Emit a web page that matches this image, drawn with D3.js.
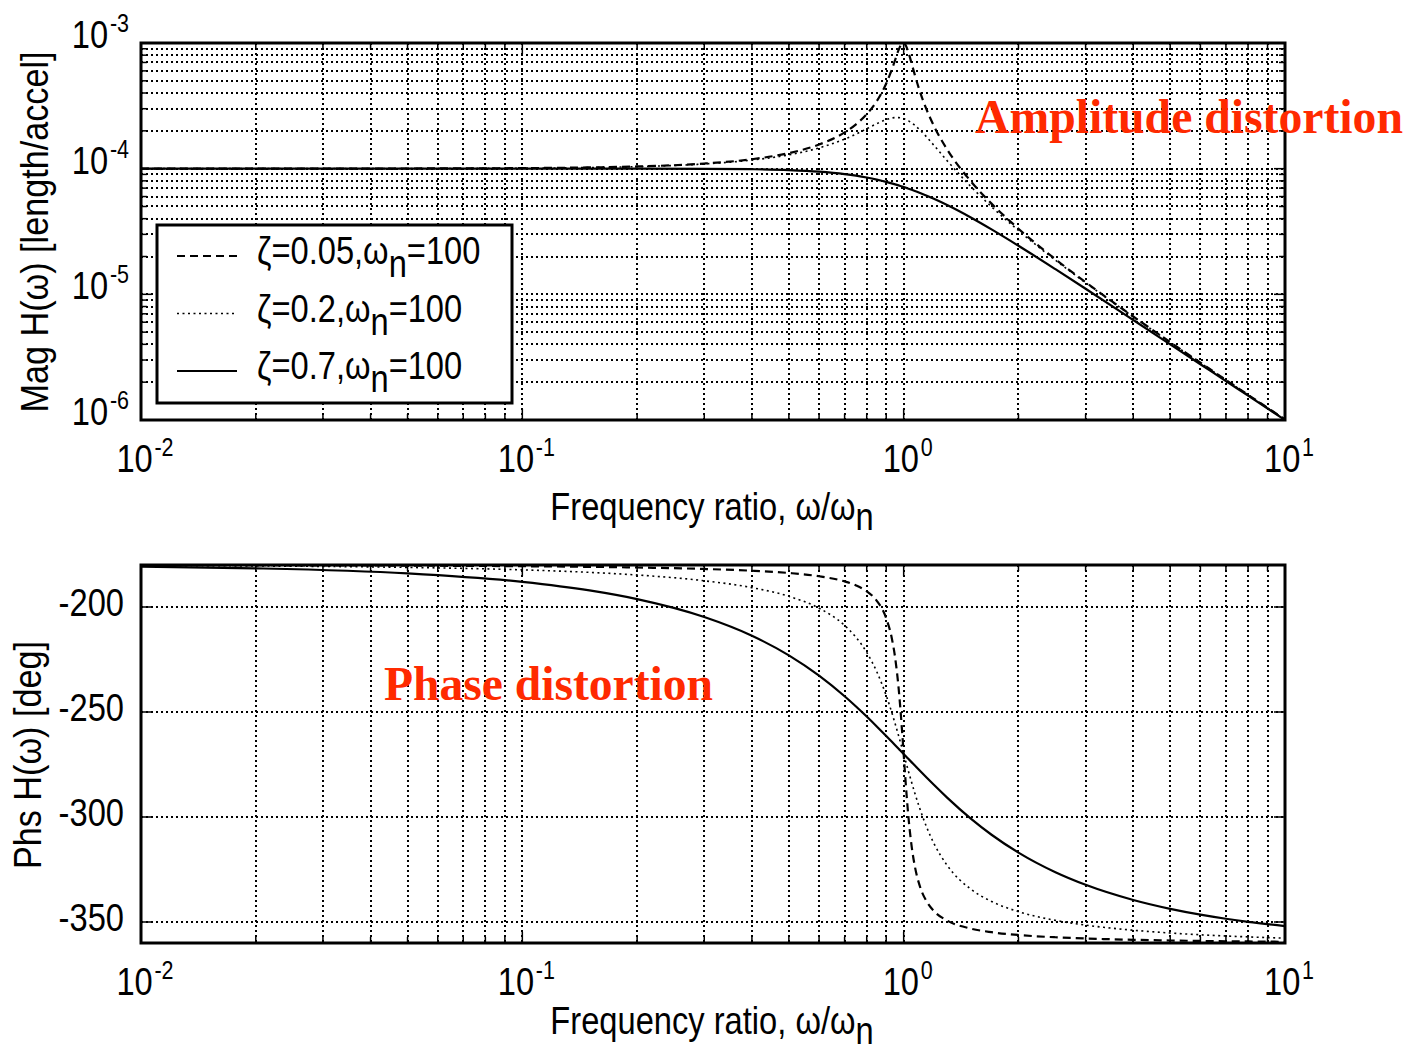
<!DOCTYPE html>
<html>
<head>
<meta charset="utf-8">
<script src="https://cdn.jsdelivr.net/npm/d3@7"></script>
<style>
  body { margin: 0; background: #fff; }
  svg { display: block; }
  text { font-family: "Liberation Sans", Arial, sans-serif; fill: #000; }
</style>
</head>
<body>
<svg id="chart" width="1410" height="1058"></svg>
<script>
// frequency ratio w/wn, shared by all curves
const ratio = [0.01, 0.02, 0.05, 0.1, 0.15, 0.2, 0.3, 0.4, 0.5, 0.6, 0.7, 0.75, 0.8, 0.85, 0.9, 0.93, 0.95, 0.97, 0.98, 0.99,
  1.0, 1.01, 1.02, 1.03, 1.05, 1.07, 1.1, 1.15, 1.2, 1.3, 1.5, 1.7, 2, 2.5, 3, 4, 5, 6, 7, 8, 10];

// magnitude, length/accel
const mag005 = [1.000e-4, 1.000e-4, 1.003e-4, 1.010e-4, 1.023e-4, 1.041e-4, 1.098e-4, 1.189e-4, 1.330e-4, 1.556e-4, 1.943e-4,
  2.253e-4, 2.712e-4, 3.446e-4, 4.757e-4, 6.097e-4, 7.346e-4, 8.804e-4, 9.461e-4, 9.903e-4, 1.000e-3, 9.711e-4, 9.115e-4,
  8.357e-4, 6.815e-4, 5.552e-4, 4.218e-4, 2.921e-4, 2.193e-4, 1.424e-4, 7.943e-5, 5.270e-5, 3.326e-5, 1.903e-5, 1.249e-5,
  6.664e-6, 4.166e-6, 2.857e-6, 2.083e-6, 1.587e-6, 1.010e-6];
const mag02 = [1.000e-4, 1.000e-4, 1.002e-4, 1.009e-4, 1.021e-4, 1.038e-4, 1.090e-4, 1.170e-4, 1.288e-4, 1.463e-4, 1.719e-4,
  1.885e-4, 2.076e-4, 2.279e-4, 2.457e-4, 2.527e-4, 2.549e-4, 2.548e-4, 2.538e-4, 2.522e-4, 2.500e-4, 2.472e-4, 2.439e-4,
  2.401e-4, 2.313e-4, 2.213e-4, 2.051e-4, 1.780e-4, 1.536e-4, 1.157e-4, 7.212e-5, 4.979e-5, 3.221e-5, 1.871e-5, 1.236e-5,
  6.629e-6, 4.152e-6, 2.851e-6, 2.080e-6, 1.585e-6, 1.009e-6];
const mag07 = [1.000e-4, 1.000e-4, 1.000e-4, 1.000e-4, 1.000e-4, 1.000e-4, 9.978e-5, 9.905e-5, 9.747e-5, 9.469e-5, 9.052e-5,
  8.791e-5, 8.500e-5, 8.184e-5, 7.848e-5, 7.639e-5, 7.499e-5, 7.357e-5, 7.286e-5, 7.214e-5, 7.143e-5, 7.071e-5, 7.000e-5,
  6.929e-5, 6.786e-5, 6.645e-5, 6.434e-5, 6.090e-5, 5.758e-5, 5.138e-5, 4.092e-5, 3.290e-5, 2.437e-5, 1.585e-5, 1.107e-5,
  6.246e-6, 4.000e-6, 2.778e-6, 2.041e-6, 1.563e-6, 1.000e-6];

// phase, deg
const phs005 = [-180.06, -180.11, -180.29, -180.58, -180.88, -181.19, -181.89, -182.73, -183.81, -185.36, -187.82, -189.73,
  -192.53, -197.03, -205.35, -214.54, -224.26, -238.64, -248.00, -258.63, -270.00, -281.26, -291.61, -300.60, -314.31,
  -323.56, -332.35, -340.37, -344.74, -349.33, -353.16, -354.86, -356.19, -357.27, -357.85, -358.47, -358.81, -359.02,
  -359.16, -359.27, -359.42];
const phs02 = [-180.23, -180.46, -181.15, -182.31, -183.51, -184.76, -187.51, -190.78, -194.93, -200.56, -208.77, -214.44,
  -221.63, -230.79, -242.18, -250.04, -255.61, -261.34, -264.23, -267.12, -270.00, -272.85, -275.65, -278.41, -283.71,
  -288.70, -295.51, -305.03, -312.51, -323.00, -334.36, -340.21, -345.07, -349.22, -351.47, -353.91, -355.24, -356.08,
  -356.66, -357.09, -357.69];
const phs07 = [-180.80, -181.60, -184.01, -188.05, -192.12, -196.26, -204.78, -213.69, -223.03, -232.70, -242.51, -247.38,
  -252.18, -256.87, -261.42, -264.08, -265.81, -267.51, -268.35, -269.18, -270.00, -270.81, -271.62, -272.42, -273.99,
  -275.52, -277.77, -281.33, -284.68, -290.76, -300.76, -308.45, -316.97, -326.31, -332.30, -339.53, -343.74, -346.50,
  -348.46, -349.92, -351.95];

const seriesNames = ["0.05", "0.2", "0.7"];
const xTicks = [0.01, 0.1, 1, 10];
const xTickExp = ["-2", "-1", "0", "1"];
const magTicks = [1e-3, 1e-4, 1e-5, 1e-6];
const magTickExp = ["-3", "-4", "-5", "-6"];
const phsTicks = [-200, -250, -300, -350];

const svg = d3.select("#chart");
const SX = 0.86; // matlab font is narrow
const FS = 38;

const x = d3.scaleLog().domain([0.01, 10]).range([141, 1285]);
const yMag = d3.scaleLog().domain([1e-6, 1e-3]).range([420, 43]);
const yPhs = d3.scaleLinear().domain([-360, -180]).range([943, 565]);

const styles = [
  { dash: "8,5", w: 2.2 },
  { dash: "2,3.5", w: 1.6 },
  { dash: null, w: 2.2 }
];

// all minor log positions between 0.01 and 10
const xMinor = [];
[0.01, 0.1, 1].forEach(d => { for (let k = 1; k <= 9; k++) xMinor.push(d * k); });
xMinor.push(10);
const yMinor = [];
[1e-6, 1e-5, 1e-4].forEach(d => { for (let k = 1; k <= 9; k++) yMinor.push(d * k); });
yMinor.push(1e-3);

function label(g, px, py, anchor, main, sup, size) {
  const t = g.append("text")
    .attr("transform", `translate(${px},${py}) scale(${SX},1)`)
    .attr("text-anchor", anchor)
    .style("font-size", size + "px");
  t.append("tspan").text(main);
  if (sup) t.append("tspan").attr("dx", 2).attr("dy", -16).style("font-size", "25px").text(sup);
  return t;
}

function panel(y, y0, y1, yGrid, yMinorTicks, curves, titleY) {
  const g = svg.append("g");
  const grid = g.append("g").attr("stroke", "#000").attr("stroke-width", 1.5)
    .attr("stroke-dasharray", "2,3").attr("shape-rendering", "crispEdges");
  grid.selectAll(".gx").data(xMinor.slice(1, -1)).join("line")
    .attr("x1", d => Math.round(x(d))).attr("x2", d => Math.round(x(d))).attr("y1", y0).attr("y2", y1);
  grid.selectAll(".gy").data(yGrid).join("line")
    .attr("x1", 141).attr("x2", 1285).attr("y1", d => Math.round(y(d))).attr("y2", d => Math.round(y(d)));

  const line = d3.line().x((d, i) => x(ratio[i])).y(d => y(d)).curve(d3.curveMonotoneX);
  curves.forEach((c, i) => {
    g.append("path").attr("d", line(c)).attr("fill", "none").attr("stroke", "#000")
      .attr("stroke-width", styles[i].w).attr("stroke-dasharray", styles[i].dash);
  });

  // inward ticks on all four sides
  const tk = g.append("g").attr("stroke", "#000").attr("stroke-width", 1.5);
  xMinor.forEach(d => {
    const len = xTicks.includes(d) ? 11 : 6;
    tk.append("line").attr("x1", x(d)).attr("x2", x(d)).attr("y1", y1).attr("y2", y1 - len);
    tk.append("line").attr("x1", x(d)).attr("x2", x(d)).attr("y1", y0).attr("y2", y0 + len);
  });
  yMinorTicks.forEach(d => {
    const len = d.major ? 11 : 6;
    tk.append("line").attr("x1", 141).attr("x2", 141 + len).attr("y1", y(d.v)).attr("y2", y(d.v));
    tk.append("line").attr("x1", 1285).attr("x2", 1285 - len).attr("y1", y(d.v)).attr("y2", y(d.v));
  });

  g.append("rect").attr("x", 141).attr("y", y0).attr("width", 1144).attr("height", y1 - y0)
    .attr("fill", "none").attr("stroke", "#000").attr("stroke-width", 3);

  // x tick labels and title
  xTicks.forEach((d, i) => label(g, x(d) + 4, y1 + 52, "middle", "10", xTickExp[i], FS));
  const tt = label(g, 712, titleY, "middle", "Frequency ratio, \u03c9/\u03c9", null, FS);
  tt.append("tspan").attr("dy", 10).text("n");
  return g;
}

// magnitude panel
const magTickList = yMinor.map(v => ({ v: v, major: magTicks.some(m => Math.abs(m - v) / m < 1e-6) }));
const gm = panel(yMag, 43, 420, yMinor.slice(1, -1), magTickList, [mag005, mag02, mag07], 520);
magTicks.forEach((d, i) => label(gm, 129, yMag(d) + 5, "end", "10", magTickExp[i], FS));
gm.append("text")
  .attr("transform", `translate(48,232) rotate(-90) scale(0.9,1)`)
  .attr("text-anchor", "middle").style("font-size", "38px")
  .text("Mag H(\u03c9) [length/accel]");

// legend
const lg = gm.append("g");
lg.append("rect").attr("x", 157).attr("y", 225).attr("width", 355).attr("height", 178)
  .attr("fill", "#fff").attr("stroke", "#000").attr("stroke-width", 3);
const legY = d3.scalePoint().domain(seriesNames).range([256, 371]);
seriesNames.forEach((s, i) => {
  lg.append("line").attr("x1", 177).attr("x2", 237).attr("y1", legY(s)).attr("y2", legY(s))
    .attr("stroke", "#000").attr("stroke-width", styles[i].w).attr("stroke-dasharray", styles[i].dash);
  const t = label(lg, 257, legY(s) + 8, "start", "\u03b6=" + s + ",\u03c9", null, FS);
  t.append("tspan").attr("dy", 13).text("n");
  t.append("tspan").attr("dy", -13).text("=100");
});

// phase panel
const phsTickList = phsTicks.map(v => ({ v: v, major: true }));
const gp = panel(yPhs, 565, 943, phsTicks, phsTickList, [phs005, phs02, phs07], 1034);
phsTicks.forEach(d => label(gp, 124, yPhs(d) + 9, "end", String(d), null, FS));
gp.append("text")
  .attr("transform", `translate(41,755) rotate(-90) scale(0.9,1)`)
  .attr("text-anchor", "middle").style("font-size", "38px")
  .text("Phs H(\u03c9) [deg]");

// annotations
svg.append("text").attr("x", 975).attr("y", 133)
  .attr("textLength", 428).attr("lengthAdjust", "spacingAndGlyphs")
  .style("font-family", "'Liberation Serif', 'Times New Roman', serif").style("font-weight", "bold")
  .style("font-size", "48px").style("fill", "#ff2a00")
  .text("Amplitude distortion");
svg.append("text").attr("x", 384).attr("y", 700)
  .attr("textLength", 329).attr("lengthAdjust", "spacingAndGlyphs")
  .style("font-family", "'Liberation Serif', 'Times New Roman', serif").style("font-weight", "bold")
  .style("font-size", "48px").style("fill", "#ff2a00")
  .text("Phase distortion");
</script>
</body>
</html>
